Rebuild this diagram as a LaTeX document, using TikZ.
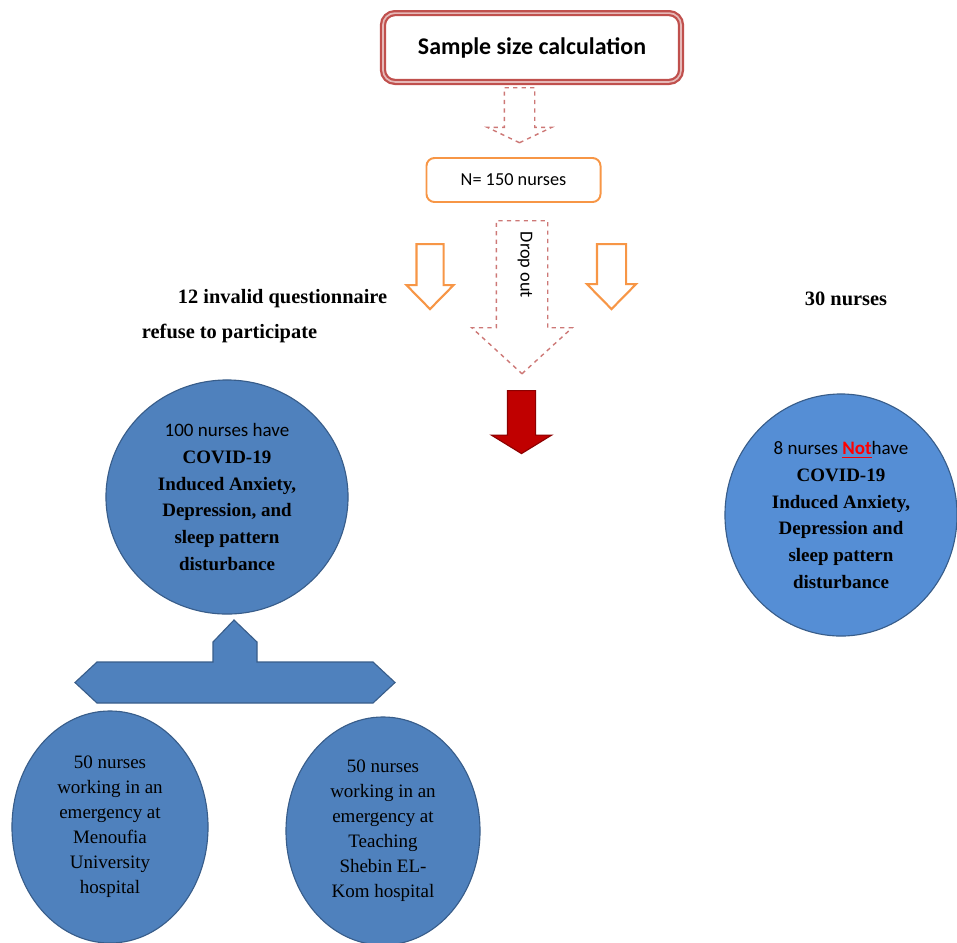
\documentclass[tikz,border=0pt]{standalone}
\usepackage{fontspec}
\setmainfont{Liberation Serif}
\newfontfamily\calibri{Carlito}
\usetikzlibrary{
  shapes.arrows,
  shapes.geometric,
  positioning
}
\definecolor{boxred}{RGB}{192,80,77}
\definecolor{dashred}{RGB}{205,120,118}
\definecolor{boxorange}{RGB}{247,150,70}
\definecolor{darkred}{RGB}{192,0,0}
\definecolor{cellblue}{RGB}{79,129,189}
\definecolor{lightblue}{RGB}{85,142,213}
\definecolor{edgeblue}{RGB}{56,93,138}

\begin{document}
\begin{tikzpicture}[
      x=0.025cm, y=-0.025cm,
      titlebox/.style={
         rectangle,
         rounded corners=3mm,
         minimum width=7.45cm,
         minimum height=1.72cm,
         draw=boxred, line width=1.6pt,
         double=boxred!40, double distance=1.2pt,
         fill=white,
         font=\calibri\bfseries\fontsize{17}{20}\selectfont
      },
      countbox/.style={
         rectangle,
         rounded corners=2mm,
         minimum width=4.35cm,
         minimum height=1.1cm,
         draw=boxorange, line width=1.4pt,
         font=\calibri\fontsize{13}{15}\selectfont
      },
      blockarrow/.style={
         single arrow,
         shape border rotate=270,
         anchor=tail,
         single arrow head indent=0pt
      },
      dashedarrow/.style={blockarrow, draw=dashred, dashed, line width=1pt},
      hollowarrow/.style={blockarrow, draw=boxorange, line width=1.5pt, fill=white},
      solidarrow/.style={blockarrow, draw=red!55!black, line width=0.8pt, fill=darkred},
      heading/.style={anchor=west, font=\bfseries\fontsize{14.5}{17}\selectfont},
      bigcell/.style={
         ellipse,
         draw=edgeblue, line width=0.8pt,
         fill=cellblue,
         align=center,
         inner sep=0pt,
         font=\bfseries\fontsize{13.5}{19}\selectfont
      },
      smallcell/.style={
         ellipse,
         draw=edgeblue, line width=0.8pt,
         fill=cellblue,
         align=center,
         inner sep=0pt,
         font=\fontsize{13.5}{17.8}\selectfont
      }
    ]
    \useasboundingbox (0,0) rectangle (957,942);
    \node (sampsize) [titlebox] at (532,47.5) {Sample size calculation};
    \node (ncount) [countbox] at (513.5,180) {N= 150 nurses};
    \node (arrowtop) [dashedarrow, inner sep=0.3625cm, single arrow head extend=0.425cm,
       single arrow tip angle=129, minimum height=1.375cm] at (519.5,87) {};
    \node (dropout) [dashedarrow, inner sep=0.625cm, single arrow head extend=0.6125cm,
       single arrow tip angle=95, minimum height=3.825cm] at (522,220) {};
    \node (droplabel) [rotate=-90, font=\calibri\fontsize{13}{15}\selectfont] at (525,265) {Drop out};
    \node (arrowleft) [hollowarrow, inner sep=0.3125cm, single arrow head extend=0.25cm,
       single arrow tip angle=89, minimum height=1.625cm] at (430,243) {};
    \node (arrowright) [hollowarrow, inner sep=0.3375cm, single arrow head extend=0.25cm,
       single arrow tip angle=89, minimum height=1.625cm] at (611.5,243) {};
    \node (arrowred) [solidarrow, inner sep=0.3375cm, single arrow head extend=0.4cm,
       single arrow tip angle=117, minimum height=1.575cm] at (521.5,390) {};
    \node (invalid) [heading] at (173,299) {12 invalid questionnaire};
    \node (refuse) [heading] at (137,333) {refuse to participate};
    \node (thirty) [heading] at (800,299) {30 nurses};
    \node (have) [bigcell, minimum width=6.05cm, minimum height=5.85cm] at (227,497)
       {{\calibri\mdseries 100 nurses have}\\COVID-19\\Induced Anxiety,\\Depression, and\\sleep pattern\\disturbance};
    \node (nothave) [bigcell, fill=lightblue, minimum width=5.8cm, minimum height=6.05cm] at (841,515)
       {{\calibri\mdseries 8 nurses \textcolor{red}{\bfseries\underline{Not}}have}\\COVID-19\\Induced Anxiety,\\Depression and\\sleep pattern\\disturbance};
    \draw [draw=edgeblue, line width=0.8pt, fill=cellblue]
       (234,620) -- (257,642) -- (257,662) -- (373,662) -- (395,682.5) -- (373,703)
       -- (97,703) -- (75,682.5) -- (97,662) -- (213,662) -- (213,642) -- cycle;
    \node (menoufia) [smallcell, minimum width=4.9cm, minimum height=5.8cm] at (110,827)
       {50 nurses\\working in an\\emergency at\\Menoufia\\University\\hospital};
    \node (shebin) [smallcell, minimum width=4.85cm, minimum height=5.7cm] at (383,831)
       {50 nurses\\working in an\\emergency at\\Teaching\\Shebin EL-\\Kom hospital};
\end{tikzpicture}
\end{document}
